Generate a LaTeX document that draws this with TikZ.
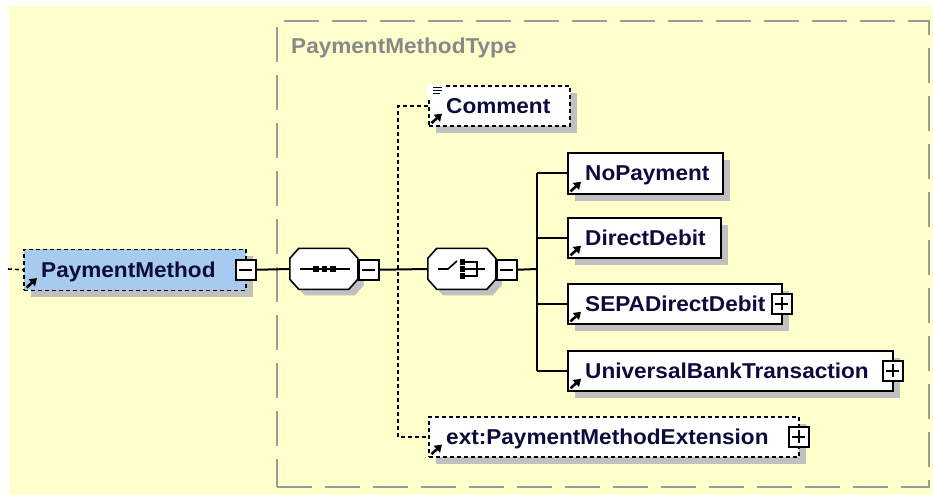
\documentclass[tikz,border=0pt]{standalone}
\usepackage{fontspec}
\setmainfont[FakeStretch=1.05]{Liberation Sans}
\usetikzlibrary{shadows,calc,arrows.meta}
\definecolor{bgyellow}{HTML}{FFFFCC}
\definecolor{framegray}{HTML}{9A9A9A}
\definecolor{titlegray}{HTML}{888888}
\definecolor{shadowgray}{HTML}{C0C0C0}
\definecolor{selblue}{HTML}{A6CAF0}
\definecolor{txtnavy}{HTML}{0C0C3C}
\tikzset{
  elbox/.style={draw=black, line width=1.8pt, fill=white, inner sep=0, anchor=north west,
    minimum height=40pt,
    drop shadow={shadow xshift=7pt, shadow yshift=-7pt, fill=shadowgray, opacity=1}},
  optbox/.style={elbox, line width=1.6pt, dash pattern=on 4pt off 3pt},
  ellabel/.style={anchor=base west, inner sep=0, text=txtnavy, font=\fontsize{21.5}{24}\selectfont\bfseries},
  pmbox/.style={draw=black, line width=1.5pt, fill=white, minimum width=20pt, minimum height=20pt, inner sep=0, anchor=north west},
  ghost/.style={draw=none, inner sep=0, minimum width=68pt, minimum height=41pt},
  conn/.style={line width=2pt},
  optconn/.style={line width=1.6pt, dash pattern=on 4pt off 3pt},
  frame/.style={draw=framegray, line width=2pt, dash pattern=on 35pt off 13pt, inner sep=0, anchor=north west}
}
\newcommand\pmminus[1]{\draw[line width=1.7pt] ($(#1.center)+(-6.5,0)$) -- ($(#1.center)+(6.5,0)$);}
\newcommand\pmplus[1]{\pmminus{#1}\draw[line width=1.7pt] ($(#1.center)+(0,-6.5)$) -- ($(#1.center)+(0,6.5)$);}
\newcommand\refarrow[1]{\draw[line width=2.6pt, -{Triangle[length=7pt,width=9pt]}] ($(#1.south west)+(3.5,-3.5)$) -- ($(#1.south west)+(14,-13)$);}
\newcommand\octo[1]{%
  \path (#1.north west) coordinate (o);
  \fill[shadowgray] ($(o)+(15,6)$) -- ($(o)+(65,6)$) -- ($(o)+(74,16)$) -- ($(o)+(74,37)$) -- ($(o)+(65,47)$) -- ($(o)+(15,47)$) -- ($(o)+(6,37)$) -- ($(o)+(6,16)$) -- cycle;
  \filldraw[fill=white, draw=black, line width=1.6pt] ($(o)+(9,0)$) -- ($(o)+(59,0)$) -- ($(o)+(68,10)$) -- ($(o)+(68,31)$) -- ($(o)+(59,41)$) -- ($(o)+(9,41)$) -- ($(o)+(0,31)$) -- ($(o)+(0,10)$) -- cycle;}
\begin{document}
\begin{tikzpicture}[x=1pt,y=-1pt]
\useasboundingbox (0,0) rectangle (933,495);
\fill[white] (0,0) rectangle (933,495);
\fill[bgyellow] (9,6) rectangle (933,495);

% type frame
\node[frame, minimum width=652pt, minimum height=466pt] (frm) at (276,20) {};
\node[anchor=base west, inner sep=0, text=titlegray, font=\fontsize{21.5}{24}\selectfont\bfseries] (frmtitle) at (291,53) {PaymentMethodType};

% PaymentMethod
\coordinate (in) at (8,269);
\node[optbox, fill=selblue, minimum width=222pt, minimum height=41pt] (pm) at (23,248.5) {};
\node[ellabel] (pmlab) at ($(pm.west)+(18,7.5)$) {PaymentMethod};
\refarrow{pm}
\node[pmbox] (pmm) at (235,259) {};
\pmminus{pmm}
\draw[optconn] (in) -- (pm.west);

% sequence
\node[ghost] (seq) at (324,269) {};
\octo{seq}
\node[pmbox] (seqm) at (358,259) {};
\pmminus{seqm}
\draw[line width=1.6pt] (300,269) -- (350,269);
\foreach \c in {316,324.5,333} \fill ({\c-2.8},266.2) rectangle ({\c+2.8},271.8);

% choice
\node[ghost] (cho) at (462,269) {};
\octo{cho}
\node[pmbox] (chom) at (496,259) {};
\pmminus{chom}
\draw[line width=1.6pt] (438,269) -- (448,269) -- (457,261);
\foreach \yy in {262,269,276} \fill (459.5,{\yy-2.8}) rectangle (465.2,{\yy+2.8});
\draw[line width=1.6pt] (465,262) -- (477,262) -- (477,276) -- (465,276);
\draw[line width=1.6pt] (465,269) -- (485,269);

% connectors between compositors
\draw[conn] (pmm.east) -- (seq.west);
\draw[conn] (seqm.east) -- (cho.west);
\coordinate (bus) at (537,269);
\coordinate (dbus) at (398,269);

% optional children of sequence
\node[optbox, minimum width=141pt] (cm) at (428,85) {};
\node[ellabel] (cmlab) at ($(cm.west)+(18,7.5)$) {Comment};
\fill[white] (427,83.5) rectangle (444,97);
\draw[line width=1.2pt] (433,87.5) -- (442,87.5) (433,90.5) -- (442,90.5) (433,93.5) -- (440,93.5);
\refarrow{cm}

\node[optbox, minimum width=370pt] (ext) at (428,416) {};
\node[ellabel] (extlab) at ($(ext.west)+(18,7.5)$) {ext:PaymentMethodExtension};
\refarrow{ext}
\node[pmbox] (extp) at (788,426) {};
\pmplus{extp}

\draw[optconn] (cm.west) -| (dbus |- ext.west) -- (ext.west);

% choice children
\node[elbox, minimum width=155pt, minimum height=41pt] (np) at (567,152) {};
\node[ellabel] (nplab) at ($(np.west)+(18,7.5)$) {NoPayment};
\refarrow{np}

\node[elbox, minimum width=153pt] (dd) at (567,217) {};
\node[ellabel] (ddlab) at ($(dd.west)+(18,7.5)$) {DirectDebit};
\refarrow{dd}

\node[elbox, minimum width=214pt] (sepa) at (567,283) {};
\node[ellabel] (sepalab) at ($(sepa.west)+(18,7.5)$) {SEPADirectDebit};
\refarrow{sepa}
\node[pmbox] (sepap) at (771,293) {};
\pmplus{sepap}

\node[elbox, minimum width=325pt] (ubt) at (567,350) {};
\node[ellabel] (ubtlab) at ($(ubt.west)+(18,7.5)$) {UniversalBankTransaction};
\refarrow{ubt}
\node[pmbox] (ubtp) at (882,360) {};
\pmplus{ubtp}

\draw[conn] (chom.east) -- (bus);
\draw[conn] (bus |- np.west) -- (bus |- ubt.west);
\draw[conn] (bus |- np.west) -- (np.west);
\draw[conn] (bus |- dd.west) -- (dd.west);
\draw[conn] (bus |- sepa.west) -- (sepa.west);
\draw[conn] (bus |- ubt.west) -- (ubt.west);
\end{tikzpicture}
\end{document}
